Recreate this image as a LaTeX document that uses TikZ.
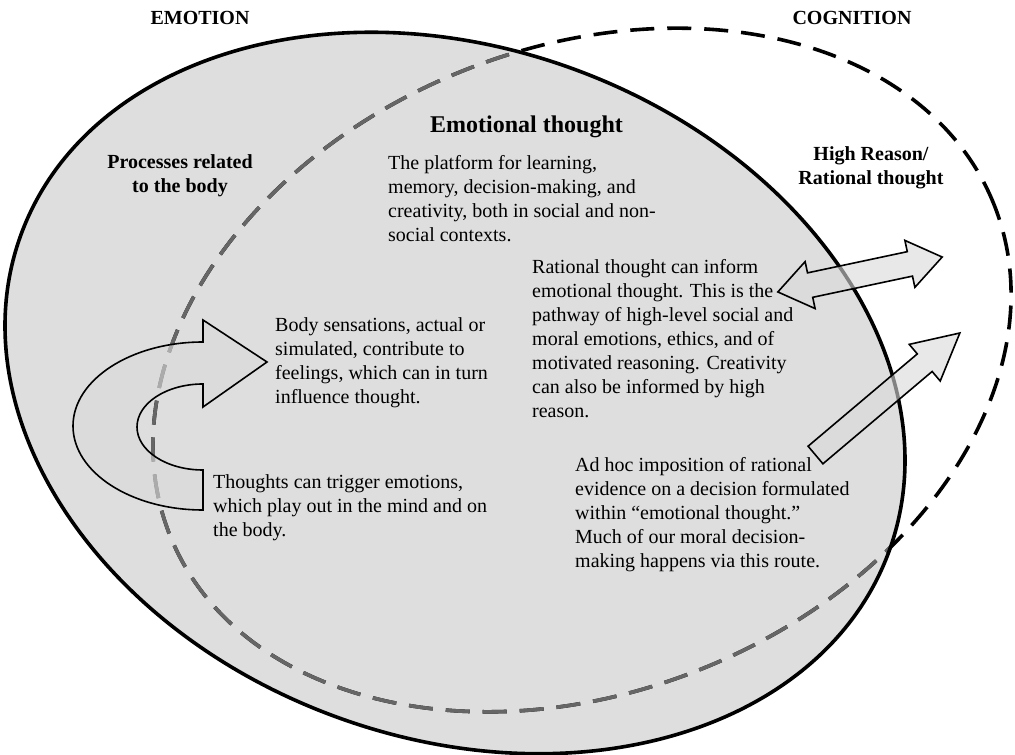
\documentclass[tikz,border=0pt]{standalone}
\usepackage{fontspec}
\setmainfont{Liberation Serif}
\newcommand{\bodytext}{\fontsize{20}{24}\selectfont}
\newcommand{\headtext}{\fontsize{20}{24}\selectfont\bfseries}
\newcommand{\titletext}{\fontsize{24}{28}\selectfont\bfseries}

\begin{document}
\begin{tikzpicture}[x=1pt,y=1pt,font=\bodytext,
    txt/.style={align=left,anchor=north west,inner sep=0pt},
    head/.style={font=\headtext,align=center,anchor=base,inner sep=0pt},
    blockarrow/.style={draw,line width=1.6pt,fill=black!15,fill opacity=0.6,line join=miter},
    cogline/.style={line width=3.6pt,dash pattern=on 24pt off 13pt},
    emoarea/.style={rotate around={-20:(455,362)}},
    cogarea/.style={rotate around={22:(582,385)}}]
  \useasboundingbox (0,0) rectangle (1015,755);
  % emotion: filled ellipse
  \fill[black!13,emoarea] (455,362) ellipse [x radius=462pt,y radius=345pt];
  % cognition: dashed ellipse, grey where it runs inside emotion
  \draw[cogline,cogarea] (582,385) ellipse [x radius=444pt,y radius=322pt];
  \begin{scope}
    \clip[emoarea] (455,362) ellipse [x radius=462pt,y radius=345pt];
    \draw[cogline,black!60,cogarea] (582,385) ellipse [x radius=444pt,y radius=322pt];
  \end{scope}
  \draw[line width=3.6pt,emoarea] (455,362) ellipse [x radius=462pt,y radius=345pt];

  % block arrows
  \draw[blockarrow] (203,413) arc[start angle=90,end angle=270,x radius=130pt,y radius=84pt]
    -- (203,285) arc[start angle=270,end angle=90,x radius=66pt,y radius=43pt]
    -- (203,348) -- (267,393) -- (203,435) -- cycle;
  \begin{scope}[shift={(860,480.5)},rotate=12]
    \draw[blockarrow] (-84,0) -- (-51,24) -- (-51,12.5) -- (51,12.5) -- (51,24) -- (84,0)
      -- (51,-24) -- (51,-12.5) -- (-51,-12.5) -- (-51,-24) -- cycle;
  \end{scope}
  \begin{scope}[shift={(815.5,300)},rotate=40.2]
    \draw[blockarrow] (0,-11.5) -- (143,-11.5) -- (143,-24) -- (189,0) -- (143,24)
      -- (143,11.5) -- (0,11.5) -- cycle;
  \end{scope}

  % labels
  \node[head] (emotion) at (200,730) {EMOTION};
  \node[head] (cognition) at (852,730) {COGNITION};
  \node[head] (bodyproc) at (180,562) {Processes related\\to the body};
  \node[head] (highreason) at (871,570) {High Reason/\\Rational thought};
  \node[txt,font=\titletext] (emothought) at (430,639) {Emotional thought};
  \node[txt] (platform) at (388,600) {The platform for learning,\\memory, decision-making, and\\creativity, both in social and non-\\social contexts.};
  \node[txt] (rationalinfo) at (532,496) {Rational thought can inform\\emotional thought. This is the\\pathway of high-level social and\\moral emotions, ethics, and of\\motivated reasoning. Creativity\\can also be informed by high\\reason.};
  \node[txt] (bodysens) at (275,438) {Body sensations, actual or\\simulated, contribute to\\feelings, which can in turn\\influence thought.};
  \node[txt] (thoughtstrig) at (213,281) {Thoughts can trigger emotions,\\which play out in the mind and on\\the body.};
  \node[txt] (adhoc) at (575,298) {Ad hoc imposition of rational\\evidence on a decision formulated\\within ``emotional thought.''\\Much of our moral decision-\\making happens via this route.};
\end{tikzpicture}
\end{document}
